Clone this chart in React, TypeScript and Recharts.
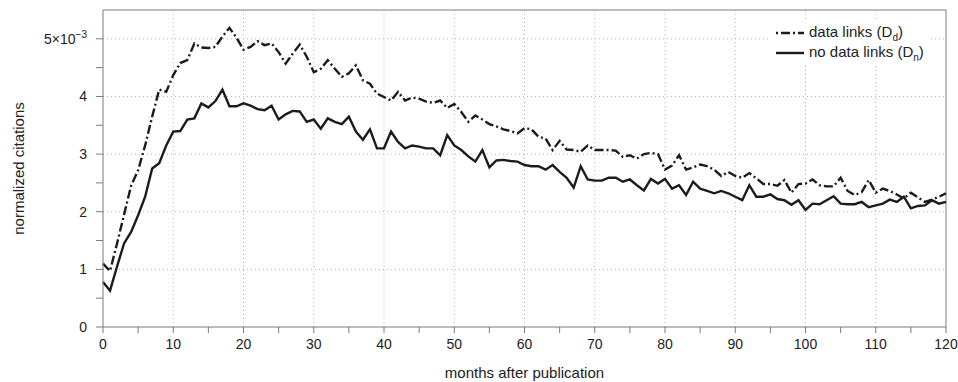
import { LineChart, Line, XAxis, YAxis, CartesianGrid, ReferenceLine, Legend } from 'recharts';

// normalized citations, in units of 1e-3, one value per month (0..120)
const dataLinks = [
  1.1, 0.97, 1.45, 1.95, 2.45, 2.72, 3.15, 3.65, 4.12, 4.08,
  4.37, 4.58, 4.63, 4.92, 4.85, 4.84, 4.86, 5.04, 5.19, 5.02,
  4.81, 4.86, 4.96, 4.89, 4.92, 4.77, 4.57, 4.74, 4.9, 4.69,
  4.42, 4.48, 4.63, 4.48, 4.34, 4.4, 4.54, 4.28, 4.22, 4.05,
  3.99, 3.93, 4.08, 3.93, 3.98, 3.96, 3.91, 3.89, 3.93, 3.8,
  3.87, 3.73, 3.56, 3.67, 3.6, 3.52, 3.48, 3.43, 3.4, 3.36,
  3.45, 3.43, 3.3, 3.27, 3.07, 3.23, 3.08, 3.07, 3.04, 3.15,
  3.07, 3.07, 3.07, 3.06, 2.95, 2.98, 2.92, 3.0, 3.02, 3.0,
  2.73, 2.8, 2.98, 2.73, 2.77, 2.82, 2.79, 2.73, 2.62, 2.69,
  2.62, 2.59, 2.67, 2.58, 2.48, 2.48, 2.45, 2.55, 2.33, 2.48,
  2.49, 2.56, 2.46, 2.44, 2.44, 2.59, 2.36, 2.29, 2.34, 2.55,
  2.33, 2.4, 2.36, 2.3, 2.23, 2.33, 2.25, 2.17, 2.21, 2.26,
  2.32,
];

const noDataLinks = [
  0.78, 0.63, 1.05, 1.45, 1.65, 1.94, 2.26, 2.75, 2.84, 3.15,
  3.39, 3.4, 3.6, 3.62, 3.88, 3.81, 3.92, 4.12, 3.83, 3.83,
  3.88, 3.84, 3.78, 3.76, 3.84, 3.6, 3.69, 3.75, 3.74, 3.56,
  3.6, 3.44, 3.62, 3.56, 3.52, 3.65, 3.39, 3.25, 3.43, 3.1,
  3.1, 3.39, 3.21, 3.1, 3.15, 3.13, 3.1, 3.1, 2.98, 3.33,
  3.15, 3.07, 2.96, 2.87, 3.07, 2.77, 2.89, 2.9, 2.88, 2.87,
  2.81, 2.79, 2.79, 2.73, 2.81, 2.69, 2.59, 2.42, 2.79, 2.56,
  2.54, 2.54, 2.59, 2.59, 2.52, 2.56, 2.46, 2.37, 2.57, 2.49,
  2.57, 2.4, 2.46, 2.29, 2.52, 2.4, 2.36, 2.32, 2.36, 2.32,
  2.26, 2.2, 2.46, 2.26, 2.26, 2.3, 2.22, 2.2, 2.12, 2.2,
  2.03, 2.14, 2.13, 2.2, 2.27, 2.14, 2.13, 2.13, 2.17, 2.08,
  2.11, 2.14, 2.21, 2.17, 2.26, 2.06, 2.1, 2.11, 2.2, 2.14,
  2.17,
];

const xTicks = [0, 5, 10, 15, 20, 25, 30, 35, 40, 45, 50, 55, 60, 65, 70, 75, 80, 85, 90, 95, 100, 105, 110, 115, 120];
const xGrid = [10, 20, 30, 40, 50, 60, 70, 80, 90, 100, 110];
const yTicks = [0, 0.5, 1, 1.5, 2, 2.5, 3, 3.5, 4, 4.5, 5];
const yGrid = [1, 2, 3, 4, 5];

const data = dataLinks.map((v, i) => ({ month: i, dd: v, dn: noDataLinks[i] }));

const FONT = '"Liberation Sans", Arial, Helvetica, sans-serif';
const AXIS = '#7a7a7a';
const INK = '#1c1c1c';
const DASHDOT = '9 3 2 3';

const YTick = ({ x, y, payload }: any) => {
  const v = payload.value;
  if (v % 1 !== 0) return <g />;
  return (
    <text x={x} y={y} dy={5} textAnchor="end" fill="#222" fontSize={14} fontFamily={FONT}>
      {v === 5 ? (
        <>
          5×10<tspan dy={-6} fontSize={10}>−3</tspan>
        </>
      ) : (
        v
      )}
    </text>
  );
};

const Sub = ({ children }: { children: string }) => (
  <span style={{ fontSize: 10, position: 'relative', top: 4 }}>{children}</span>
);

const LegendBox = () => (
  <div style={{ background: '#fff', fontFamily: FONT, fontSize: 15, color: '#222', padding: '1px 6px', lineHeight: '20px' }}>
    <div style={{ display: 'flex', alignItems: 'center', height: 20 }}>
      <svg width={28} height={10} style={{ marginRight: 5 }}>
        <line x1={0} y1={5} x2={28} y2={5} stroke={INK} strokeWidth={2.4} strokeDasharray="2 3 9 3" />
      </svg>
      <span>data links (D<Sub>d</Sub>)</span>
    </div>
    <div style={{ display: 'flex', alignItems: 'center', height: 20 }}>
      <svg width={28} height={10} style={{ marginRight: 5 }}>
        <line x1={0} y1={5} x2={28} y2={5} stroke={INK} strokeWidth={2.4} />
      </svg>
      <span>no data links (D<Sub>n</Sub>)</span>
    </div>
  </div>
);

export default function App() {
  return (
    <div style={{ position: 'absolute', left: 0, top: 0, background: '#fff' }}>
      <LineChart width={958} height={382} data={data} margin={{ top: 10, right: 12, bottom: 0, left: 0 }}>
        <CartesianGrid
          stroke="#b5b5b5"
          strokeDasharray="1 3"
          horizontalValues={yGrid}
          verticalValues={xGrid}
        />
        <XAxis
          dataKey="month"
          type="number"
          domain={[0, 120]}
          ticks={xTicks}
          interval={0}
          height={55}
          stroke={AXIS}
          tickSize={6}
          tickMargin={6}
          tick={{ fill: '#222', fontSize: 14, fontFamily: FONT }}
          tickFormatter={(v: number) => (v % 10 === 0 ? String(v) : '')}
          label={{ value: 'months after publication', position: 'insideBottom', offset: 4, fill: '#222', fontSize: 15, fontFamily: FONT }}
        />
        <YAxis
          type="number"
          domain={[0, 5.5]}
          ticks={yTicks}
          interval={0}
          width={103}
          stroke={AXIS}
          tickSize={7}
          tickMargin={9}
          tick={<YTick />}
          label={{ value: 'normalized citations', angle: -90, position: 'insideLeft', offset: 19, fill: '#222', fontSize: 15, fontFamily: FONT, style: { textAnchor: 'middle' } }}
        />
        <ReferenceLine y={5.5} stroke={AXIS} />
        <ReferenceLine x={120} stroke={AXIS} />
        <Legend
          layout="horizontal"
          verticalAlign="middle"
          align="center"
          content={<LegendBox />}
          wrapperStyle={{ position: 'absolute', left: 770, top: 22, width: 'auto' }}
        />
        <Line dataKey="dd" type="linear" stroke={INK} strokeWidth={2.4} strokeDasharray={DASHDOT} dot={false} isAnimationActive={false} name="data links" />
        <Line dataKey="dn" type="linear" stroke={INK} strokeWidth={2.4} dot={false} isAnimationActive={false} name="no data links" />
      </LineChart>
    </div>
  );
}
